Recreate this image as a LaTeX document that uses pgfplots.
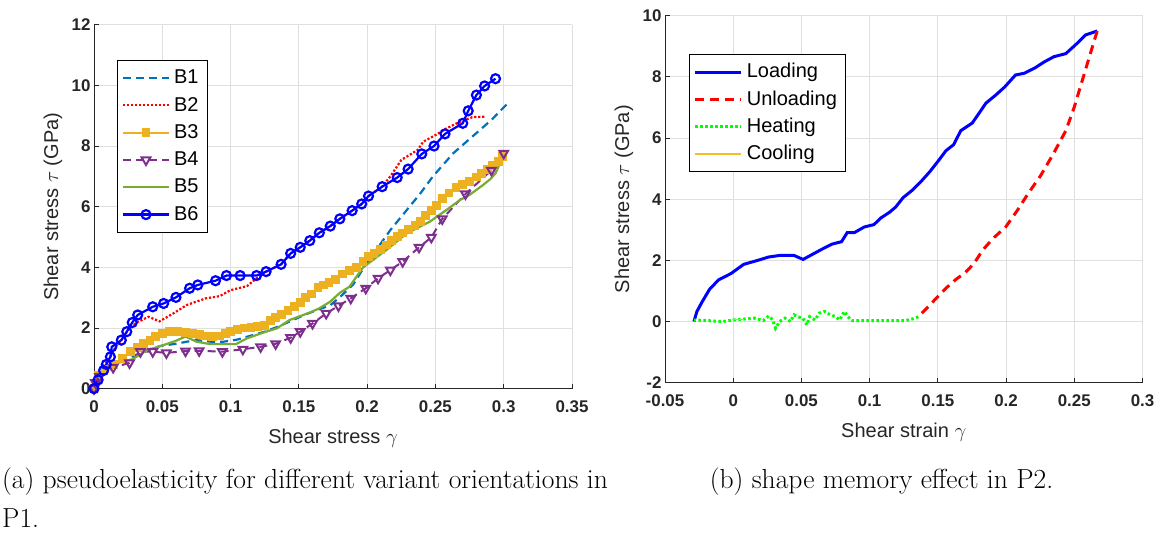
\documentclass[border=0pt]{standalone}
\usepackage{fontspec}
\newfontfamily\arial{Liberation Sans}
\usepackage{pgfplots}
\pgfplotsset{compat=1.18}
\definecolor{c1}{rgb}{0,0.447,0.741}
\definecolor{c3}{rgb}{0.929,0.694,0.125}
\definecolor{c4}{rgb}{0.494,0.184,0.556}
\definecolor{c5}{rgb}{0.466,0.674,0.188}
\definecolor{axc}{rgb}{0.15,0.15,0.15}
\definecolor{cool}{rgb}{0.95,0.75,0.15}
\definecolor{grn}{rgb}{0,1,0}
\pgfplotsset{
  matax/.style={
    scale only axis, clip=false,
    axis x line=bottom, axis y line=left,
    axis line style={-, axc, line width=0.9pt},
    tick align=inside, major tick length=5pt,
    tick style={axc, line width=0.9pt},
    grid=major, major grid style={gray!25, line width=0.9pt},
    ticklabel style={font=\arial\bfseries\fontsize{16.9}{20}\selectfont, text=axc},
    xticklabel style={yshift=-8pt},
    label style={font=\arial\fontsize{20}{24}\selectfont, text=axc},
    legend image code/.code={\draw[mark repeat=2,mark phase=2,#1] plot coordinates {(0pt,0pt) (23pt,0pt) (46pt,0pt)};},
    legend style={anchor=north west, draw=black, line width=0.9pt, fill=white,
      font=\arial\fontsize{20}{24}\selectfont,
      inner xsep=4.5pt, inner ysep=8pt, row sep=8pt, column sep=0pt,
      nodes={inner xsep=4pt, inner ysep=1pt, text height=14.3pt, text depth=3pt},
      cells={anchor=west}},
  }
}
\begin{document}
\begin{tikzpicture}[x=1pt,y=1pt]
\useasboundingbox (0,0) rectangle (1164,534);
% ---------------- left panel ----------------
\begin{axis}[matax,
  at={(94pt,145.3pt)}, anchor=south west, width=478pt, height=364pt,
  xmin=0, xmax=0.35, ymin=0, ymax=12,
  xtick={0,0.05,0.1,0.15,0.2,0.25,0.3,0.35},
  xticklabels={0,0.05,0.1,0.15,0.2,0.25,0.3,0.35},
  ytick={0,2,4,6,8,10,12}, yticklabels={0,2,4,6,8,10,12},
  xlabel={Shear stress $\gamma$}, ylabel={Shear stress $\tau$ (GPa)},
  xlabel style={at={(axis description cs:0.5,-0.137)}, anchor=center},
  ylabel style={at={(axis description cs:-0.0858,0.5)}, anchor=center},
  legend style={at={(axis description cs:0.048,0.903)}},
]
\addplot[c1, line width=2.2pt, dash pattern=on 8pt off 5pt] coordinates {
(0,0) (0.005,0.45) (0.01,0.72) (0.02,0.9) (0.03,1.1) (0.04,1.3) (0.05,1.42) (0.06,1.48) (0.068,1.55) (0.075,1.6) (0.085,1.55) (0.095,1.55) (0.105,1.62) (0.115,1.75) (0.125,1.88) (0.135,2.05) (0.145,2.25) (0.155,2.45) (0.165,2.62) (0.173,2.75) (0.182,3.1) (0.19,3.45) (0.197,3.95) (0.204,4.41) (0.217,5.23) (0.229,5.89) (0.239,6.44) (0.248,6.99) (0.263,7.76) (0.277,8.31) (0.291,8.86) (0.303,9.41)};
\addlegendentry{B1}
\addplot[red, line width=2.2pt, dash pattern=on 2.2pt off 1.8pt] coordinates {
(0,0) (0.003,0.3) (0.007,0.75) (0.012,1.05) (0.016,1.4) (0.02,1.6) (0.026,2.0) (0.032,2.2) (0.04,2.37) (0.048,2.22) (0.058,2.48) (0.068,2.76) (0.082,2.98) (0.092,3.05) (0.1,3.25) (0.112,3.38) (0.119,3.64) (0.126,3.86) (0.137,4.1) (0.144,4.46) (0.151,4.66) (0.158,4.88) (0.165,5.14) (0.173,5.36) (0.18,5.6) (0.189,5.87) (0.196,6.09) (0.201,6.35) (0.211,6.66) (0.217,7.0) (0.225,7.54) (0.237,7.87) (0.241,8.14) (0.25,8.36) (0.258,8.58) (0.268,8.8) (0.277,8.95) (0.287,8.97)};
\addlegendentry{B2}
\addplot[c3, line width=2.2pt, mark=square*, mark size=3.3pt, mark options={solid}] coordinates {
(0,0) (0.003,0.45) (0.008,0.65) (0.014,0.8) (0.021,1.0) (0.027,1.22) (0.032,1.35) (0.036,1.49) (0.041,1.6) (0.045,1.71) (0.05,1.82) (0.055,1.88) (0.061,1.88) (0.067,1.86) (0.072,1.82) (0.077,1.78) (0.082,1.74) (0.087,1.72) (0.092,1.74) (0.096,1.82) (0.1,1.88) (0.105,1.95) (0.11,2.0) (0.115,2.03) (0.12,2.04) (0.125,2.08) (0.129,2.26) (0.133,2.35) (0.137,2.45) (0.142,2.58) (0.147,2.72) (0.151,2.84) (0.155,3.0) (0.159,3.12) (0.164,3.34) (0.168,3.42) (0.172,3.5) (0.177,3.6) (0.182,3.78) (0.187,3.9) (0.192,4.0) (0.197,4.19) (0.201,4.35) (0.205,4.46) (0.21,4.6) (0.214,4.74) (0.218,4.88) (0.222,5.01) (0.226,5.13) (0.23,5.25) (0.235,5.38) (0.239,5.51) (0.243,5.7) (0.247,5.88) (0.251,6.05) (0.255,6.28) (0.26,6.45) (0.265,6.62) (0.27,6.72) (0.275,6.83) (0.28,6.98) (0.284,7.1) (0.288,7.22) (0.292,7.35) (0.296,7.5) (0.299,7.65)};
\addlegendentry{B3}
\addplot[c4, line width=2pt, dash pattern=on 8pt off 5pt, mark=triangle, mark size=5pt, mark options={solid, rotate=180}] coordinates {
(0,0) (0.001,0.2) (0.004,0.4) (0.014,0.7) (0.026,0.85) (0.034,1.22) (0.043,1.22) (0.053,1.18) (0.067,1.24) (0.077,1.25) (0.094,1.22) (0.109,1.3) (0.122,1.38) (0.133,1.48) (0.144,1.68) (0.151,1.88) (0.16,2.15) (0.17,2.48) (0.179,2.73) (0.188,2.98) (0.199,3.31) (0.208,3.64) (0.217,3.91) (0.226,4.19) (0.238,4.66) (0.247,4.99) (0.255,5.6) (0.272,6.42) (0.291,7.2) (0.3,7.76)};
\addlegendentry{B4}
\addplot[c5, line width=2.2pt] coordinates {
(0,0) (0.004,0.4) (0.007,0.62) (0.012,0.8) (0.021,0.89) (0.028,0.97) (0.039,1.27) (0.051,1.44) (0.06,1.58) (0.067,1.72) (0.075,1.55) (0.085,1.47) (0.104,1.47) (0.112,1.66) (0.124,1.85) (0.134,1.99) (0.143,2.26) (0.158,2.51) (0.165,2.65) (0.173,2.87) (0.18,3.16) (0.187,3.36) (0.197,4.0) (0.214,4.57) (0.229,5.12) (0.246,5.51) (0.258,5.89) (0.268,6.22) (0.275,6.39) (0.285,6.72) (0.29,6.9) (0.294,7.1) (0.298,7.5) (0.3,7.7)};
\addlegendentry{B5}
\addplot[blue, line width=2.2pt, mark=o, mark size=4.5pt, mark options={solid}] coordinates {
(0,0) (0.003,0.29) (0.007,0.6) (0.009,0.8) (0.012,1.05) (0.013,1.38) (0.02,1.6) (0.024,1.88) (0.028,2.18) (0.032,2.43) (0.043,2.7) (0.051,2.81) (0.06,3.01) (0.07,3.31) (0.076,3.42) (0.089,3.56) (0.097,3.73) (0.107,3.73) (0.119,3.73) (0.126,3.86) (0.137,4.1) (0.144,4.46) (0.151,4.66) (0.158,4.88) (0.165,5.14) (0.173,5.36) (0.18,5.6) (0.189,5.87) (0.196,6.09) (0.201,6.35) (0.211,6.66) (0.222,6.96) (0.23,7.24) (0.24,7.74) (0.249,8.0) (0.257,8.4) (0.27,8.75) (0.274,9.16) (0.28,9.68) (0.286,9.98) (0.294,10.22)};
\addlegendentry{B6}
\end{axis}
% ---------------- right panel ----------------
\begin{axis}[matax,
  at={(665pt,151.3pt)}, anchor=south west, width=477.5pt, height=367pt,
  xmin=-0.05, xmax=0.3, ymin=-2, ymax=10,
  xtick={-0.05,0,0.05,0.1,0.15,0.2,0.25,0.3},
  xticklabels={-0.05,0,0.05,0.1,0.15,0.2,0.25,0.3},
  ytick={-2,0,2,4,6,8,10}, yticklabels={-2,0,2,4,6,8,10},
  xlabel={Shear strain $\gamma$}, ylabel={Shear stress $\tau$ (GPa)},
  xlabel style={at={(axis description cs:0.5,-0.136)}, anchor=center},
  ylabel style={at={(axis description cs:-0.0859,0.5)}, anchor=center},
  legend style={at={(axis description cs:0.05,0.8956)}},
]
\addplot[blue, line width=3pt] coordinates {
(-0.0288,0) (-0.0266,0.33) (-0.0227,0.65) (-0.0174,1.05) (-0.0108,1.36) (-0.0016,1.57) (0.0077,1.87) (0.018,2.0) (0.026,2.11) (0.034,2.16) (0.0446,2.16) (0.0512,2.03) (0.0578,2.19) (0.0644,2.35) (0.0723,2.53) (0.0794,2.61) (0.0836,2.91) (0.0889,2.91) (0.096,3.09) (0.1032,3.17) (0.108,3.38) (0.1145,3.57) (0.119,3.74) (0.1245,4.05) (0.1317,4.31) (0.1383,4.61) (0.1443,4.91) (0.1501,5.24) (0.156,5.59) (0.1615,5.78) (0.1668,6.24) (0.1752,6.49) (0.1805,6.83) (0.1852,7.14) (0.1923,7.4) (0.199,7.67) (0.2069,8.06) (0.2135,8.12) (0.2214,8.3) (0.228,8.49) (0.2351,8.66) (0.2438,8.76) (0.2517,9.08) (0.2583,9.37) (0.2668,9.5)};
\addlegendentry{Loading}
\addplot[red, line width=3pt, dash pattern=on 9pt off 6pt] coordinates {
(0.2668,9.5) (0.2623,8.84) (0.2557,7.86) (0.2499,7.0) (0.2438,6.24) (0.2346,5.48) (0.2253,4.77) (0.2161,4.18) (0.2082,3.63) (0.1997,3.09) (0.191,2.74) (0.1831,2.35) (0.1765,1.9) (0.1699,1.59) (0.1633,1.38) (0.1567,1.12) (0.1488,0.76) (0.1396,0.33) (0.1356,0.16)};
\addlegendentry{Unloading}
\addplot[grn, line width=3pt, dash pattern=on 2.5pt off 2.5pt] coordinates {
(0.1356,0.16) (0.134,0.11) (0.126,0.03) (0.1,0.03) (0.087,0.03) (0.084,0.16) (0.0815,0.33) (0.078,0.05) (0.075,0.16) (0.071,0.22) (0.067,0.33) (0.063,0.27) (0.06,0.05) (0.056,0.16) (0.054,-0.11) (0.051,0.11) (0.047,0.16) (0.0446,0.22) (0.042,0) (0.038,0.11) (0.034,0) (0.031,-0.22) (0.029,0.05) (0.026,0.18) (0.022,0.03) (0.0156,0.11) (0.0077,0.08) (0,0.05) (-0.008,0) (-0.0187,0.03) (-0.0288,0.05)};
\addlegendentry{Heating}
\addplot[cool, line width=1.2pt] coordinates {(-0.001,0.07) (0.008,0.07)};
\addlegendentry{Cooling}
\end{axis}
% ---------------- captions ----------------
\node[anchor=base west, inner sep=0pt, font=\fontsize{27.6}{33}\selectfont] at (2,45) {(a) pseudoelasticity for different variant orientations in};
\node[anchor=base west, inner sep=0pt, font=\fontsize{27.6}{33}\selectfont] at (2,6) {P1.};
\node[anchor=base, inner sep=0pt, font=\fontsize{27.6}{33}\selectfont] at (881.5,45) {(b) shape memory effect in P2.};
\end{tikzpicture}
\end{document}
